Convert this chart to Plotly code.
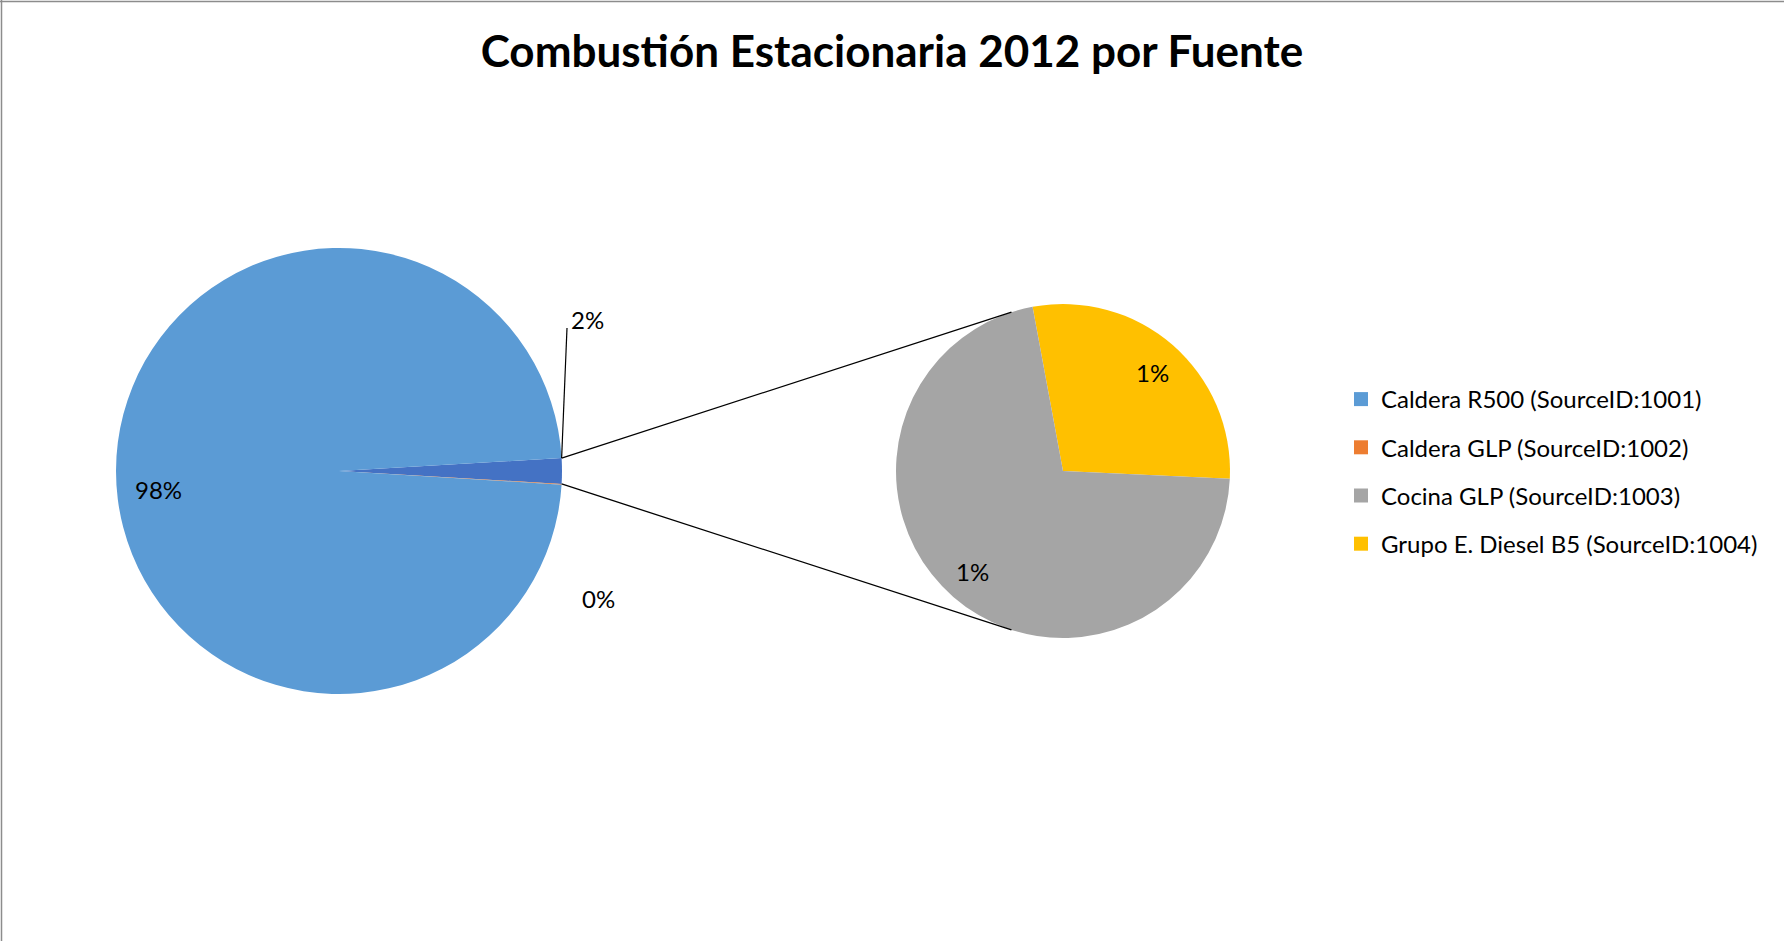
import math
import plotly.graph_objects as go

W, H = 1784, 941

# Emission share by source (% of total stationary combustion, 2012)
sources = [
    "Caldera R500 (SourceID:1001)",
    "Caldera GLP (SourceID:1002)",
    "Cocina GLP (SourceID:1003)",
    "Grupo E. Diesel B5 (SourceID:1004)",
]
shares = [98.10, 0.05, 1.32, 0.53]
colors = ["#5B9BD5", "#ED7D31", "#A5A5A5", "#FFC000"]
other_color = "#4472C4"

total = sum(shares)
other = shares[2] + shares[3]   # grouped into the secondary pie


def pct(v):
    return f"{round(v / total * 100)}%"


def px(x, y):
    """pixel (from top-left) -> paper coordinates"""
    return x / W, 1 - y / H


# pie geometry (pixels)
main_c, main_r = (339, 471), 223
sec_c, sec_r = (1063, 471), 167

main_rot = 90 - other / total * 360 / 2
sec_rot = -10.5

fig = go.Figure()

fig.add_trace(go.Pie(
    values=[other, shares[1], shares[0]],
    labels=["Otros", sources[1], sources[0]],
    marker=dict(colors=[other_color, colors[1], colors[0]], line=dict(width=0)),
    sort=False, direction="clockwise", rotation=main_rot,
    textinfo="none", hoverinfo="label+percent", showlegend=False,
    domain=dict(x=[(main_c[0] - main_r) / W, (main_c[0] + main_r) / W],
                y=[1 - (main_c[1] + main_r) / H, 1 - (main_c[1] - main_r) / H]),
))

fig.add_trace(go.Pie(
    values=[shares[3], shares[2]],
    labels=[sources[3], sources[2]],
    marker=dict(colors=[colors[3], colors[2]], line=dict(width=0)),
    sort=False, direction="clockwise", rotation=sec_rot,
    textinfo="none", hoverinfo="label", showlegend=False,
    domain=dict(x=[(sec_c[0] - sec_r) / W, (sec_c[0] + sec_r) / W],
                y=[1 - (sec_c[1] + sec_r) / H, 1 - (sec_c[1] - sec_r) / H]),
))

# legend entries
for i, (name, col) in enumerate(zip(sources, colors)):
    fig.add_trace(go.Scatter(
        x=[None], y=[None], mode="markers", name=name,
        marker=dict(symbol="square", size=14, color=col),
        legendgroup=f"g{i}", showlegend=True,
    ))

# connector lines from the "other" slice to the secondary pie (tangents)
half = other / total * math.pi  # half-angle of the other slice
shapes = []
for sgn in (-1, 1):
    ang = math.pi / 2 + sgn * half           # clock angle
    p = (main_c[0] + main_r * math.sin(ang), main_c[1] - main_r * math.cos(ang))
    dx, dy = p[0] - sec_c[0], p[1] - sec_c[1]
    d = math.hypot(dx, dy)
    phi = math.atan2(dy, dx)
    a = math.acos(sec_r / d)
    cands = [(sec_c[0] + sec_r * math.cos(phi + s * a), sec_c[1] + sec_r * math.sin(phi + s * a)) for s in (-1, 1)]
    t = min(cands, key=lambda q: q[1]) if sgn < 0 else max(cands, key=lambda q: q[1])
    x0, y0 = px(*p)
    x1, y1 = px(*t)
    shapes.append(dict(type="line", xref="paper", yref="paper", x0=x0, y0=y0, x1=x1, y1=y1,
                       line=dict(color="black", width=1.3)))
    if sgn < 0:
        top_pt = p

# leader line for the 2% label
lx0, ly0 = px(*top_pt)
lx1, ly1 = px(567, 328)
shapes.append(dict(type="line", xref="paper", yref="paper", x0=lx0, y0=ly0, x1=lx1, y1=ly1,
                   line=dict(color="black", width=1.2)))

# chart border (top and left)
shapes.append(dict(type="line", xref="paper", yref="paper", x0=0, x1=1, y0=1 - 1.5 / H, y1=1 - 1.5 / H,
                   line=dict(color="#8C8C8C", width=1.5)))
shapes.append(dict(type="line", xref="paper", yref="paper", x0=1.5 / W, x1=1.5 / W, y0=0, y1=1,
                   line=dict(color="#8C8C8C", width=1.5)))

label_font = dict(family="Lato, sans-serif", size=24, color="black")
labels = [
    (pct(shares[0]), 158, 489),
    (pct(other), 587, 320),
    (pct(shares[1]), 598, 598),
    (pct(shares[3]), 1152, 373),
    (pct(shares[2]), 972, 571),
]
annotations = []
for txt, x, y in labels:
    ax, ay = px(x, y)
    annotations.append(dict(text=txt, x=ax, y=ay, xref="paper", yref="paper",
                            xanchor="center", yanchor="middle", showarrow=False, font=label_font))

fig.update_layout(
    width=W, height=H,
    margin=dict(l=0, r=0, t=0, b=0),
    paper_bgcolor="white", plot_bgcolor="white",
    title=dict(text="<b>Combustión Estacionaria 2012 por Fuente</b>",
               x=0.5, xanchor="center", y=1 - 52 / H, yanchor="middle",
               font=dict(family="Lato, sans-serif", size=44, color="black")),
    xaxis=dict(visible=False), yaxis=dict(visible=False),
    legend=dict(x=1341 / W, y=1 - 377 / H, xanchor="left", yanchor="top",
                font=dict(family="Lato, sans-serif", size=24, color="black"),
                traceorder="grouped", tracegroupgap=14, bgcolor="rgba(0,0,0,0)"),
    shapes=shapes,
    annotations=annotations,
)

fig.write_html("out.html")
